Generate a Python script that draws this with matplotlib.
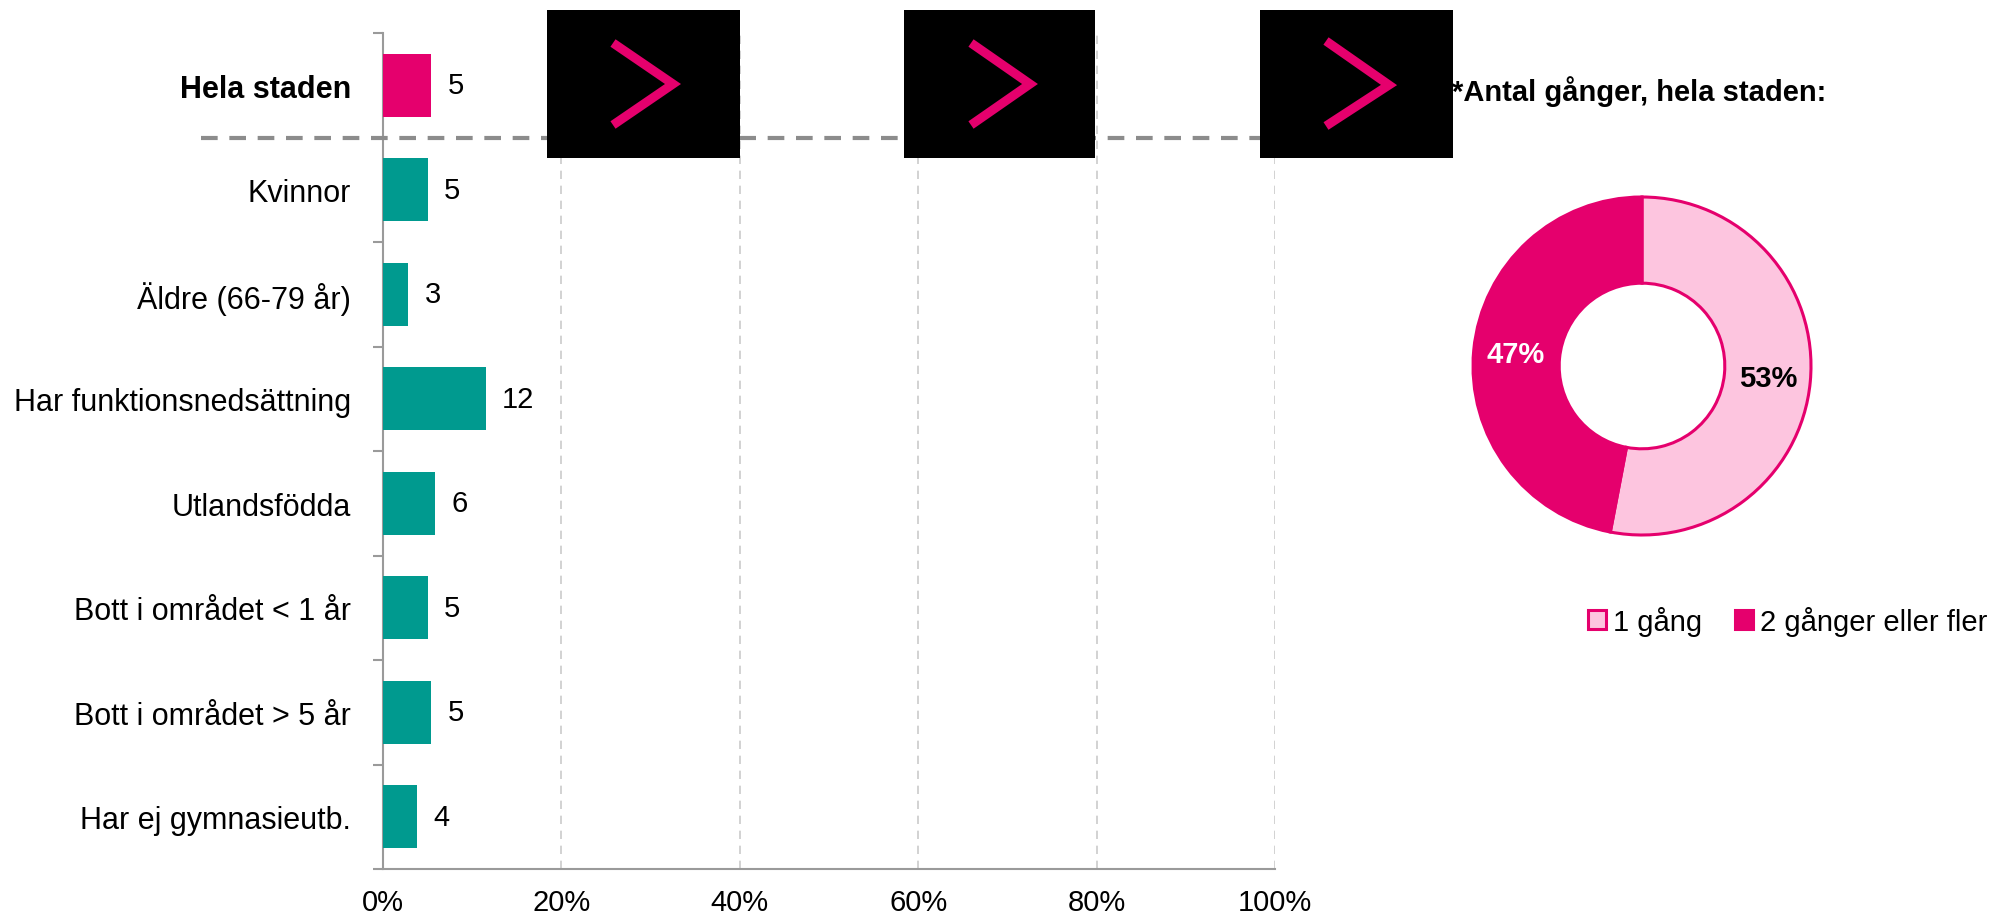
import matplotlib
matplotlib.use("Agg")
import matplotlib.pyplot as plt
from matplotlib.patches import Rectangle
from matplotlib.lines import Line2D
import matplotlib.transforms as mtransforms

plt.rcParams['font.family'] = ['Liberation Sans', 'DejaVu Sans']

# data
categories = ["Hela staden", "Kvinnor", "Äldre (66-79 år)", "Har funktionsnedsättning",
              "Utlandsfödda", "Bott i området < 1 år", "Bott i området > 5 år",
              "Har ej gymnasieutb."]
values = [5.4, 5.0, 2.8, 11.5, 5.8, 5.0, 5.4, 3.8]
value_labels = ["5", "5", "3", "12", "6", "5", "5", "4"]
xticks = [0, 20, 40, 60, 80, 100]
xtick_labels = ["0%", "20%", "40%", "60%", "80%", "100%"]

donut_labels = ["1 gång", "2 gånger eller fler"]
donut_values = [53, 47]
donut_title = "*Antal gånger, hela staden:"

pink = "#E5006D"
light_pink = "#FDC5DF"
teal = "#009A8F"
axis_grey = "#9A9A9A"
FS = 21

W, H = 1990, 920
fig = plt.figure(figsize=(W / 100, H / 100), dpi=100)

def fx(px):
    return px / W

def fy(py):
    return (H - py) / H

# bar chart
ax = fig.add_axes([fx(383), fy(870), fx(1275) - fx(383), fy(34) - fy(870)])
ypos = list(range(len(categories)))
colors = [pink] + [teal] * (len(categories) - 1)
ax.barh(ypos, values, height=0.6, color=colors, zorder=3)
for y, v, lab in zip(ypos, values, value_labels):
    ax.annotate(lab, (v, y), xytext=(12, 0), textcoords="offset points",
                ha="left", va="center", fontsize=FS)

ax.set_xlim(0, 100)
ax.set_ylim(len(categories) - 0.5, -0.5)
ax.set_xticks(xticks)
ax.set_xticklabels(xtick_labels, fontsize=FS)
ax.set_yticks(ypos)
ax.set_yticklabels(categories, fontsize=22)
ax.get_yticklabels()[0].set_fontweight("bold")
ax.set_yticks([i - 0.5 for i in range(len(categories) + 1)], minor=True)
ax.tick_params(axis="y", which="major", length=0, pad=23)
ax.tick_params(axis="y", which="minor", length=7, width=1.5, color=axis_grey)
ax.tick_params(axis="x", length=0, pad=14)
for s in ["top", "right"]:
    ax.spines[s].set_visible(False)
for s in ["left", "bottom"]:
    ax.spines[s].set_color(axis_grey)
    ax.spines[s].set_linewidth(1.5)
ax.xaxis.grid(True, color="#CBCBCB", linestyle=(0, (5, 4)), linewidth=1.2)
ax.set_axisbelow(True)

# dashed separator below "Hela staden"
trans = mtransforms.blended_transform_factory(fig.transFigure, ax.transData)
sep = Line2D([fx(201), fx(1440)], [0.5, 0.5], transform=trans, color="#8C8C8C",
             linewidth=3, linestyle=(0, (4, 2.8)), zorder=4)
fig.add_artist(sep)

# black boxes with chevrons
boxes = [(547, 740), (904, 1095), (1260, 1453)]
chevrons = [((613, 44), (673, 85), (613, 126)),
            ((971, 44), (1030, 85), (971, 126)),
            ((1326, 42), (1389, 86), (1326, 127))]
for (x0, x1), chev in zip(boxes, chevrons):
    fig.add_artist(Rectangle((fx(x0), fy(159)), fx(x1) - fx(x0), fy(11) - fy(159),
                             transform=fig.transFigure, facecolor="black",
                             edgecolor="none", zorder=10))
    fig.add_artist(Line2D([fx(p[0]) for p in chev], [fy(p[1]) for p in chev],
                          transform=fig.transFigure, color=pink, linewidth=6.5,
                          solid_joinstyle="miter", solid_capstyle="butt", zorder=11))

# donut
fig.text(fx(1452), fy(92), donut_title, fontsize=FS, fontweight="bold",
         ha="left", va="center", zorder=12)
cx, cy, r = 1642, 367, 169
half = r * 1.2
dax = fig.add_axes([fx(cx - half), fy(cy + half), fx(2 * half), (2 * half) / H])
wedges, texts, autotexts = dax.pie(
    donut_values, colors=[light_pink, pink], startangle=90, counterclock=False,
    radius=1.0, autopct=lambda p: f"{round(p):d}%", pctdistance=0.75,
    wedgeprops=dict(width=0.51, edgecolor=pink, linewidth=2.2),
    textprops=dict(fontsize=FS, fontweight="bold"))
autotexts[0].set_color("black")
autotexts[1].set_color("white")
dax.set_xlim(-1.2, 1.2)
dax.set_ylim(-1.2, 1.2)
dax.set_aspect("equal")
dax.axis("off")

fig.legend(wedges, donut_labels, loc="center left",
           bbox_to_anchor=(fx(1588), fy(622)), ncol=2, frameon=False,
           fontsize=FS, handlelength=0.62, handleheight=0.62,
           handletextpad=0.25, columnspacing=1.1, borderpad=0, borderaxespad=0)

fig.savefig("out.png", dpi=100)
